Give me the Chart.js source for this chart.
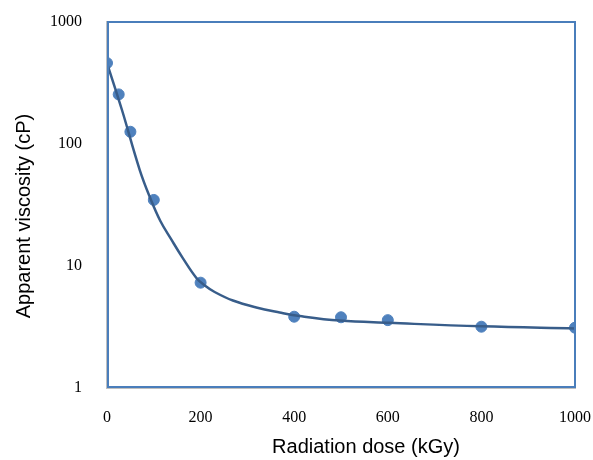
<!DOCTYPE html>
<html>
<head>
<meta charset="utf-8">
<script src="https://cdn.jsdelivr.net/npm/chart.js@4/dist/chart.umd.min.js"></script>
<style>
	html, body { margin: 0; padding: 0; background: #fff; }
	#wrap { width: 593px; height: 460px; }
</style>
</head>
<body>
<div id="wrap"><canvas id="c" width="593" height="460"></canvas></div>
<script>
// measured points
const doseX = [0, 25, 50, 100, 200, 400, 500, 600, 800, 1000];
const viscY = [461, 255, 126, 34.8, 7.3, 3.84, 3.8, 3.6, 3.18, 3.12];
// fitted curve
const fitX = [0, 32, 70, 94, 114, 137, 162, 191, 209, 230, 269, 319, 369, 412, 497, 604, 800, 1000];
const fitY = [461, 190, 61.2, 34.8, 23.4, 16.6, 11.6, 7.98, 6.92, 6.12, 5.21, 4.57, 4.16, 3.89, 3.57, 3.42, 3.2, 3.08];
const xTicks = [0, 200, 400, 600, 800, 1000];
const yTicks = [1, 10, 100, 1000];
const xTitle = 'Radiation dose (kGy)';
const yTitle = 'Apparent viscosity (cP)';

function pts(xs, ys) {
	return xs.map(function (x, i) { return { x: x, y: ys[i] }; });
}

// plot frame and axis titles (titles sit off-centre in the original)
const frame = {
	id: 'frame',
	afterDatasetsDraw: function (chart) {
		const a = chart.chartArea, ctx = chart.ctx;
		ctx.save();
		ctx.strokeStyle = '#4a7ebb';
		ctx.lineWidth = 2;
		ctx.strokeRect(a.left + 1, a.top, a.right - a.left - 1, a.bottom - a.top - 1);
		ctx.restore();
	},
	afterDraw: function (chart) {
		const ctx = chart.ctx;
		ctx.save();
		ctx.fillStyle = '#000';
		ctx.font = '20px "Liberation Sans"';
		ctx.textAlign = 'center';
		ctx.textBaseline = 'middle';
		ctx.fillText(xTitle, 366, 447);
		ctx.translate(24, 216);
		ctx.rotate(-Math.PI / 2);
		ctx.fillText(yTitle, 0, 0);
		ctx.restore();
	}
};

new Chart(document.getElementById('c'), {
	type: 'scatter',
	data: {
		datasets: [{
			label: 'fit',
			data: pts(fitX, fitY),
			showLine: true,
			borderColor: '#385d8a',
			borderWidth: 2.5,
			pointRadius: 0,
			tension: 0.4,
			order: 0
		}, {
			label: 'viscosity',
			data: pts(doseX, viscY),
			backgroundColor: '#4f81bd',
			borderColor: '#4f81bd',
			pointRadius: 5.5,
			order: 1
		}]
	},
	options: {
		responsive: false,
		animation: false,
		layout: { padding: { top: 22, right: 18, left: 0, bottom: 0 } },
		plugins: { legend: { display: false }, tooltip: { enabled: false } },
		scales: {
			x: {
				type: 'linear',
				min: 0, max: 1000,
				afterBuildTicks: function (s) { s.ticks = xTicks.map(function (v) { return { value: v }; }); },
				afterFit: function (s) { s.height = 72; s.paddingLeft = 0; s.paddingRight = 0; },
				grid: { display: false },
				border: { display: true, color: '#bfbfbf', width: 2 },
				ticks: { color: '#000', padding: 12, maxRotation: 0, font: { family: 'Liberation Serif', size: 16 }, callback: function (v) { return String(v); } },
				title: { display: false }
			},
			y: {
				type: 'logarithmic',
				min: 1, max: 1000,
				afterBuildTicks: function (s) { s.ticks = yTicks.map(function (v) { return { value: v }; }); },
				afterFit: function (s) { s.width = 107; s.paddingTop = 0; s.paddingBottom = 0; },
				grid: { display: false },
				border: { display: true, color: '#bfbfbf', width: 2 },
				ticks: { color: '#000', padding: 17, font: { family: 'Liberation Serif', size: 16 }, callback: function (v) { return String(v); } },
				title: { display: false }
			}
		}
	},
	plugins: [frame]
});
</script>
</body>
</html>
